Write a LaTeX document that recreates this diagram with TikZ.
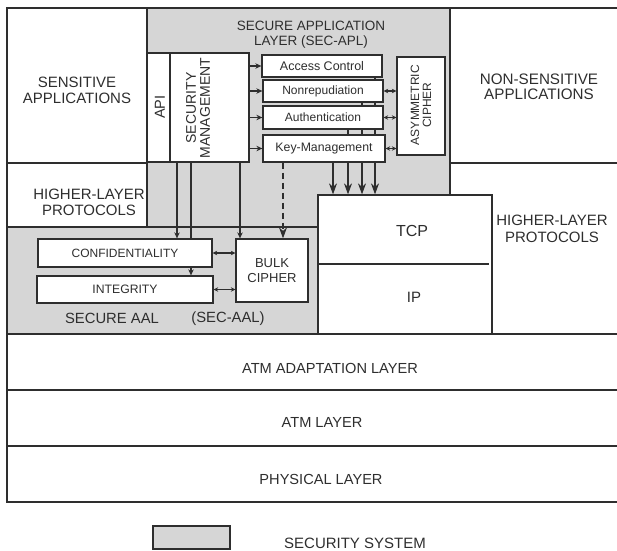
\documentclass[tikz,border=0pt]{standalone}
\usepackage{fontspec}
\setmainfont{Liberation Sans}
\usetikzlibrary{arrows.meta}
\pgfdeclarelayer{back}
\pgfdeclarelayer{mid}
\pgfsetlayers{back,mid,main}
\definecolor{secgray}{gray}{0.84}
\definecolor{ink}{gray}{0.18}
\newcommand\fz[2]{\fontsize{#1}{#2}\selectfont}
\tikzset{
  ln/.style={draw=ink, line width=1.3pt},
  wbox/.style={ln, fill=white, inner sep=0pt, align=center, text=ink},
  txt/.style={inner sep=0pt, align=center, text=ink},
  arr/.style={ln, -{Stealth[length=6pt,width=5.5pt]}},
  darr/.style={ln, {Stealth[length=4.5pt,width=4.5pt]}-{Stealth[length=4.5pt,width=4.5pt]}},
  bigarr/.style={ln, -{Stealth[length=11pt,width=8pt]}},
}
\begin{document}
\begin{tikzpicture}[x=1pt,y=-1pt]
\useasboundingbox (0,0) rectangle (617,550);
% security system shading
\begin{pgfonlayer}{back}
\fill[secgray] (147,8) -- (450,8) -- (450,195) -- (318,195) -- (318,334)
  -- (7,334) -- (7,227) -- (147,227) -- cycle;
\end{pgfonlayer}
% frame and layer lines
\draw[ln] (617,8) -- (7,8) -- (7,502) -- (617,502);
\draw[ln] (7,334) -- (617,334);
\draw[ln] (7,390) -- (617,390);
\draw[ln] (7,446) -- (617,446);
\draw[ln] (147,8) -- (147,227);
\draw[ln] (7,163) -- (147,163);
\draw[ln] (7,227) -- (318,227);
\draw[ln] (450,8) -- (450,195);
\draw[ln] (450,163) -- (617,163);
% top texts
\node[txt, font=\fz{15}{16}] (senstxt) at (77,90) {SENSITIVE\\APPLICATIONS};
\node[txt, font=\fz{15.2}{15}] (nonsenstxt) at (539,87) {NON-SENSITIVE\\APPLICATIONS};
\node[txt, font=\fz{15}{16.3}] (hlpl) at (89,202) {HIGHER-LAYER\\PROTOCOLS};
\node[txt, font=\fz{15}{17.5}] (hlpr) at (552,229) {HIGHER-LAYER\\PROTOCOLS};
\node[txt, font=\fz{13.5}{15}] (apltitle) at (311,35) {SECURE APPLICATION\\LAYER (SEC-APL)};
% SEC-APL boxes
\node[wbox, minimum width=23pt, minimum height=109pt] (api) at (158.5,107.5) {};
\node[txt, rotate=90, font=\fz{14.5}{15}] (apitxt) at (160,107) {API};
\node[wbox, minimum width=79pt, minimum height=109pt] (sm) at (209.5,107.5) {};
\node[txt, rotate=90, font=\fz{14}{14}] (smtxt) at (198,108) {SECURITY\\MANAGEMENT};
\node[wbox, minimum width=120pt, minimum height=22pt, font=\fz{12.5}{14}] (ac) at (322,66) {Access Control};
\node[wbox, minimum width=120pt, minimum height=22pt, font=\fz{12}{14}] (nr) at (323,91) {Nonrepudiation};
\node[wbox, minimum width=120pt, minimum height=23pt, font=\fz{12}{14}] (au) at (323,117.5) {Authentication};
\node[wbox, minimum width=122pt, minimum height=27pt, font=\fz{12.3}{14}] (km) at (324,148.5) {Key-Management};
\node[wbox, minimum width=48pt, minimum height=98pt] (asym) at (421,106) {};
\node[txt, rotate=90, font=\fz{12}{12}] (asymtxt) at (421,105) {ASYMMETRIC\\CIPHER};
% TCP / IP
\node[wbox, minimum width=174pt, minimum height=139pt] (tcp) at (405,264.5) {};
\draw[ln] (tcp.west |- 0,264) -- (489,264);
\node[txt, font=\fz{16}{16}] (tcptxt) at (412,231) {TCP};
\node[txt, font=\fz{15}{15}] (iptxt) at (414,297) {IP};
% SEC-AAL boxes
\node[wbox, minimum width=174pt, minimum height=28pt, font=\fz{12}{14}] (cf) at (125,253) {CONFIDENTIALITY};
\node[wbox, minimum width=176pt, minimum height=27pt, font=\fz{12.2}{14}] (ig) at (125,289.5) {INTEGRITY};
\node[wbox, minimum width=72pt, minimum height=63pt, font=\fz{13}{14.5}] (bulk) at (272,270.5) {BULK\\CIPHER};
\node[txt, font=\fz{14.8}{15}] (aal1) at (112,318) {SECURE AAL};
\node[txt, font=\fz{14.8}{15}] (aal2) at (228,319) {(SEC-AAL)};
% lower layers
\node[txt, font=\fz{14.6}{15}] (aal) at (330,368) {ATM ADAPTATION LAYER};
\node[txt, font=\fz{14.6}{15}] (atm) at (322,422) {ATM LAYER};
\node[txt, font=\fz{14.6}{15}] (phy) at (321,479) {PHYSICAL LAYER};
% legend
\node[ln, fill=secgray, inner sep=0pt, minimum width=77pt, minimum height=23pt] (leg) at (191.5,537.5) {};
\node[txt, font=\fz{15}{15}] (legtxt) at (355,543) {SECURITY SYSTEM};
% connectors behind boxes
\begin{pgfonlayer}{mid}
\draw[bigarr] (ac.south -| 375,0) -- (tcp.north -| 375,0);
\draw[bigarr] (nr.south -| 362,0) -- (tcp.north -| 362,0);
\draw[bigarr] (au.south -| 348,0) -- (tcp.north -| 348,0);
\draw[arr] (sm.south -| 191,0) -- (ig.north -| 191,0);
\end{pgfonlayer}
\draw[bigarr] (km.south -| 333,0) -- (tcp.north -| 333,0);
\draw[arr] (sm.east |- ac) -- (ac.west);
\draw[arr] (sm.east |- nr) -- (nr.west);
\draw[arr] (sm.east |- au) -- (au.west);
\draw[arr] (sm.east |- km) -- (km.west);
\draw[darr] (nr.east) -- (nr.east -| asym.west);
\draw[darr] (au.east) -- (au.east -| asym.west);
\draw[darr] (km.east) -- (km.east -| asym.west);
\draw[arr] (sm.south -| 177,0) -- (cf.north -| 177,0);
\draw[arr] (sm.south -| 240,0) -- (bulk.north -| 240,0);
\draw[bigarr, dash pattern=on 6pt off 4pt] (km.south -| 283,0) -- (bulk.north -| 283,0);
\draw[darr] (cf.east) -- (cf.east -| bulk.west);
\draw[darr] (ig.east) -- (ig.east -| bulk.west);
\end{tikzpicture}
\end{document}
